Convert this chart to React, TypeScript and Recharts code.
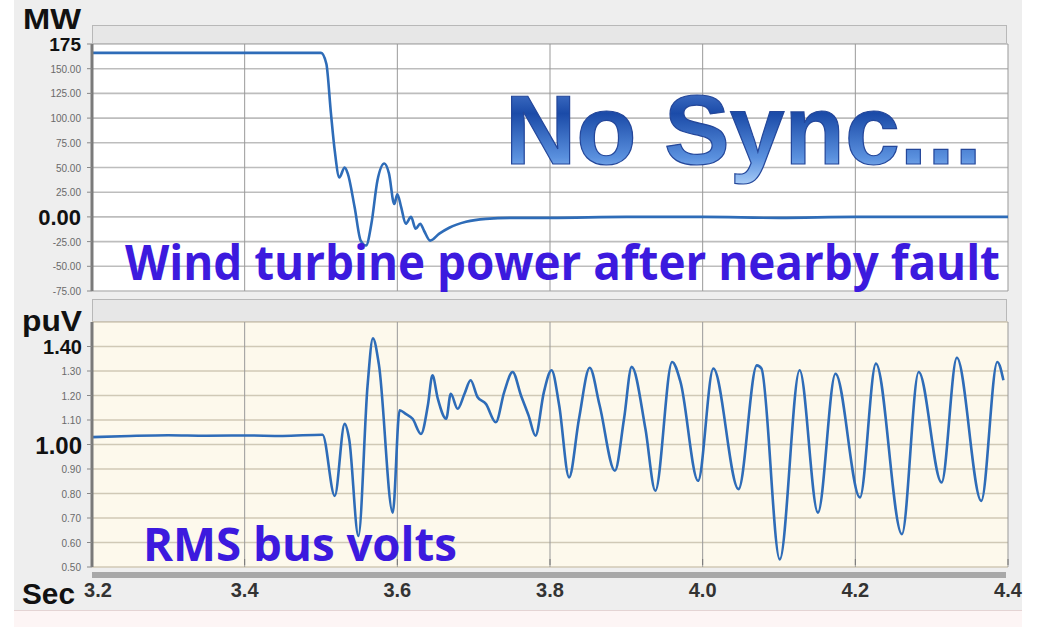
import { LineChart, Line, XAxis, YAxis, CartesianGrid } from "recharts";

// time axis (seconds)
const xTicks = [3.2, 3.4, 3.6, 3.8, 4.0, 4.2, 4.4];

// wind turbine power (MW)
const timeMW = [3.2, 3.3, 3.4, 3.5, 3.507, 3.513, 3.518, 3.524, 3.531, 3.535, 3.544, 3.552, 3.559, 3.566, 3.574, 3.583, 3.589, 3.596, 3.6, 3.605, 3.611, 3.618, 3.624, 3.63, 3.635, 3.643, 3.655, 3.668, 3.69, 3.716, 3.75, 3.8, 3.9, 4.0, 4.1, 4.2, 4.3, 4.4];
const powerMW = [166, 166, 166, 166, 155, 105, 67, 40, 50, 44, 10, -24, -29, -7, 37, 54, 44, 13, 23, 10, -7, 0, -12, -7, -14, -24, -17, -11, -5, -2, -1, -1, 0, 0, -1, 0, 0, 0];
const mwTicks = [-75, -50, -25, 0, 25, 50, 75, 100, 125, 150, 175];

// RMS bus volts (pu)
const timeV = [3.2, 3.25, 3.3, 3.35, 3.4, 3.45, 3.502, 3.518, 3.531, 3.537, 3.549, 3.561, 3.568, 3.576, 3.594, 3.603, 3.611, 3.62, 3.631, 3.64, 3.646, 3.653, 3.664, 3.67, 3.679, 3.688, 3.696, 3.705, 3.716, 3.729, 3.74, 3.751, 3.762, 3.772, 3.781, 3.792, 3.802, 3.812, 3.825, 3.838, 3.852, 3.865, 3.885, 3.897, 3.907, 3.925, 3.938, 3.96, 3.971, 3.994, 4.014, 4.047, 4.071, 4.077, 4.101, 4.127, 4.151, 4.174, 4.206, 4.227, 4.261, 4.283, 4.313, 4.333, 4.365, 4.386, 4.394];
const voltsPU = [1.03, 1.035, 1.038, 1.036, 1.037, 1.035, 1.04, 0.79, 1.084, 1.02, 0.627, 1.24, 1.433, 1.323, 0.722, 1.14, 1.125, 1.105, 1.043, 1.16, 1.282, 1.187, 1.105, 1.207, 1.146, 1.207, 1.262, 1.194, 1.166, 1.091, 1.214, 1.296, 1.2, 1.118, 1.036, 1.214, 1.303, 1.16, 0.866, 1.105, 1.313, 1.16, 0.893, 1.105, 1.317, 1.064, 0.811, 1.337, 1.255, 0.852, 1.31, 0.818, 1.323, 1.31, 0.531, 1.303, 0.722, 1.289, 0.784, 1.33, 0.634, 1.296, 0.845, 1.354, 0.77, 1.337, 1.262];
const puTicks = [0.5, 0.6, 0.7, 0.8, 0.9, 1.0, 1.1, 1.2, 1.3, 1.4];

const powerData = timeMW.map((t, i) => ({ t, mw: powerMW[i] }));
const voltData = timeV.map((t, i) => ({ t, pu: voltsPU[i] }));

const LINE = "#2e6cb8";
const SANS = "'Liberation Sans', Arial, sans-serif";

function MwTick({ x, y, payload }: any) {
  const v = payload.value;
  if (v === 175 || v === 0) {
    return (
      <text x={x - 4} y={y} dy={v === 0 ? 8 : 7} textAnchor="end" fontFamily={SANS} fontWeight="bold" fontSize={v === 0 ? 22 : 19} fill="#111">
        {v === 175 ? "175" : "0.00"}
      </text>
    );
  }
  return (
    <text x={x - 4} y={y} dy={4} textAnchor="end" fontFamily={SANS} fontSize={10} fill="#6a6a6a">
      {v.toFixed(2)}
    </text>
  );
}

function PuTick({ x, y, payload }: any) {
  const v = payload.value;
  const big = Math.abs(v - 1.4) < 1e-6 || Math.abs(v - 1.0) < 1e-6;
  if (big) {
    const one = Math.abs(v - 1.0) < 1e-6;
    return (
      <text x={x - 3} y={y} dy={one ? 9 : 7} textAnchor="end" fontFamily={SANS} fontWeight="bold" fontSize={one ? 24 : 20} fill="#111">
        {v.toFixed(2)}
      </text>
    );
  }
  return (
    <text x={x - 4} y={y} dy={4} textAnchor="end" fontFamily={SANS} fontSize={10} fill="#6a6a6a">
      {v.toFixed(2)}
    </text>
  );
}

function SecTick({ x, y, payload, index }: any) {
  const shift = index === 0 ? 6 : 0;
  return (
    <g>
      <line x1={x} x2={x} y1={y - 16} y2={y - 10} stroke="#777" strokeWidth={1} />
      <text x={x + shift} y={y} dy={22} textAnchor="middle" fontFamily="'Liberation Sans Narrow', 'Arial Narrow', sans-serif" fontWeight="bold" fontSize={20} fill="#333">
        {payload.value.toFixed(1)}
      </text>
    </g>
  );
}

export default function App() {
  return (
    <div style={{ position: "absolute", left: 0, top: 0, width: 1038, height: 627, background: "#fff", overflow: "hidden" }}>
      <div style={{ position: "absolute", left: 14, top: 0, width: 1008, height: 610, background: "#eeeeee" }} />
      <div style={{ position: "absolute", left: 14, top: 610, width: 1008, height: 17, background: "#fdf5f5", borderTop: "1px solid #e4d4d4" }} />
      {/* header strips above each plot */}
      <div style={{ position: "absolute", left: 92, top: 25, width: 913, height: 17, background: "#e7e7e7", border: "1px solid #b8b8b8" }} />
      <div style={{ position: "absolute", left: 92, top: 299, width: 913, height: 21, background: "#e7e7e7", border: "1px solid #b8b8b8" }} />

      <div style={{ position: "absolute", left: 0, top: 0 }}>
        <LineChart width={1038} height={300} data={powerData} margin={{ top: 44, right: 30, bottom: 9, left: 32 }}>
          <CartesianGrid vertical={false} fill="#ffffff" stroke="#bdbdbd" strokeWidth={1.6} />
          <CartesianGrid horizontal={false} stroke="#999" strokeWidth={1} />
          <XAxis dataKey="t" type="number" domain={[3.2, 4.4]} ticks={xTicks} hide />
          <YAxis
            type="number"
            domain={[-75, 175]}
            ticks={mwTicks}
            width={60}
            interval={0}
            tick={<MwTick />}
            tickLine={{ stroke: "#888" }}
            tickSize={5}
            axisLine={{ stroke: "#7a7a7a", strokeWidth: 3 }}
          />
          <Line type="monotone" dataKey="mw" stroke={LINE} strokeWidth={2.6} dot={false} isAnimationActive={false} />
        </LineChart>
      </div>

      <div style={{ position: "absolute", left: 0, top: 300 }}>
        <LineChart width={1038} height={310} data={voltData} margin={{ top: 22, right: 30, bottom: 0, left: 32 }}>
          <CartesianGrid vertical={false} fill="#fdf9ec" stroke="#d0c9b6" strokeWidth={1.6} />
          <CartesianGrid horizontal={false} stroke="#999" strokeWidth={1} />
          <XAxis
            dataKey="t"
            type="number"
            domain={[3.2, 4.4]}
            ticks={xTicks}
            interval={0}
            height={43}
            tick={<SecTick />}
            tickLine={false}
            axisLine={false}
          />
          <YAxis
            type="number"
            domain={[0.5, 1.5]}
            ticks={puTicks}
            width={60}
            interval={0}
            tick={<PuTick />}
            tickLine={{ stroke: "#888" }}
            tickSize={5}
            axisLine={{ stroke: "#7a7a7a", strokeWidth: 3 }}
          />
          <Line type="monotone" dataKey="pu" stroke={LINE} strokeWidth={2.6} dot={false} isAnimationActive={false} />
        </LineChart>
      </div>

      {/* x-axis bar */}
      <div style={{ position: "absolute", left: 92, top: 572, width: 914, height: 6, background: "#a8a8a8" }} />

      <svg width={1038} height={627} style={{ position: "absolute", left: 0, top: 0, pointerEvents: "none" }}>
        <defs>
          <linearGradient id="nosync" x1="0" y1="0" x2="0" y2="1">
            <stop offset="0" stopColor="#5a88d8" />
            <stop offset="0.35" stopColor="#1b4ba8" />
            <stop offset="0.75" stopColor="#5a90de" />
            <stop offset="1" stopColor="#a9cdf7" />
          </linearGradient>
        </defs>
        <text x={23} y={29} fontFamily={SANS} fontWeight="bold" fontSize={30} fill="#111" textLength={58} lengthAdjust="spacingAndGlyphs">MW</text>
        <text x={22} y={331} fontFamily={SANS} fontWeight="bold" fontSize={30} fill="#111" textLength={60} lengthAdjust="spacingAndGlyphs">puV</text>
        <text x={22} y={604} fontFamily={SANS} fontWeight="bold" fontSize={30} fill="#111" textLength={53} lengthAdjust="spacingAndGlyphs">Sec</text>
        <text x={505} y={164} fontFamily={SANS} fontWeight="bold" fontSize={98} fill="url(#nosync)" stroke="#24479a" strokeWidth={1.2} textLength={477} lengthAdjust="spacingAndGlyphs">No Sync...</text>
        <text x={125} y={280} fontFamily="'Open Sans', sans-serif" fontWeight="bold" fontSize={48} fill="#3c1ade" textLength={875} lengthAdjust="spacingAndGlyphs">Wind turbine power after nearby fault</text>
        <text x={143} y={561} fontFamily="'Open Sans', sans-serif" fontWeight="bold" fontSize={46} fill="#3c1ade" textLength={314} lengthAdjust="spacingAndGlyphs">RMS bus volts</text>
      </svg>
    </div>
  );
}
